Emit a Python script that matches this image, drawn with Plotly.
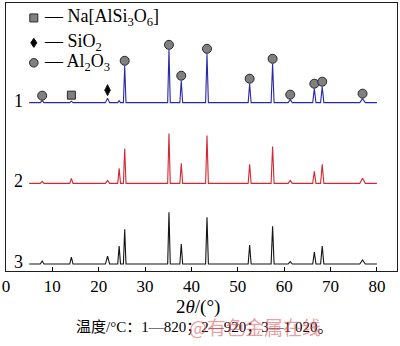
import plotly.graph_objects as go

# XRD patterns of the roasted samples (2θ in degrees, intensities in arbitrary units)
scan_start, scan_end = 5.0, 80.0
peak_pos = [7.8, 14.1, 21.9, 24.4, 25.6, 35.15, 37.8, 43.35, 52.55, 57.5, 61.3, 66.5, 68.2, 76.9]
peak_halfwidth = [0.4, 0.35, 0.45, 0.3, 0.28, 0.28, 0.3, 0.3, 0.32, 0.32, 0.45, 0.35, 0.35, 0.6]
inten_820 = [2, 1.5, 4.5, 2, 37, 53, 22, 49, 19, 39, 3, 14, 16, 4]
inten_920 = [2, 5, 3, 15, 35, 50, 20, 48, 19, 37, 3, 12, 19, 5]
inten_1020 = [3, 7, 8, 18, 35, 52, 20, 47, 19, 38, 2.5, 12, 18, 4]

# vertical offsets used to stack the patterns
offsets = {"1": 169, "2": 88, "3": 7}
colors = {"1": "rgb(40,40,170)", "2": "rgb(210,40,50)", "3": "rgb(20,20,20)"}

# phase identification (peak positions marked on pattern 1)
nepheline_peaks = [14.1]
sio2_peaks = [21.9]
al2o3_peaks = [7.8, 25.6, 35.15, 37.8, 43.35, 52.55, 57.5, 61.3, 66.5, 68.2, 76.9]

caption = "温度/°C：1—820；2—920；3—1 020。"
xticks = [0, 10, 20, 30, 40, 50, 60, 70, 80]


def pattern(intens):
    xs, ys = [scan_start], [0.0]
    for p, w, h in zip(peak_pos, peak_halfwidth, intens):
        xs += [p - w, p, p + w]
        ys += [0.0, h, 0.0]
    xs.append(scan_end)
    ys.append(0.0)
    return xs, ys


fig = go.Figure()
for key, intens in (("1", inten_820), ("2", inten_920), ("3", inten_1020)):
    xs, ys = pattern(intens)
    fig.add_trace(go.Scatter(
        x=xs, y=[v + offsets[key] for v in ys], mode="lines",
        line=dict(color=colors[key], width=1.1), showlegend=False, hoverinfo="skip"))

h_lookup = dict(zip(peak_pos, inten_820))


def marker_trace(positions, symbol, fill, size, gap):
    return go.Scatter(
        x=positions,
        y=[offsets["1"] + h_lookup[p] + gap for p in positions],
        mode="markers", showlegend=False, hoverinfo="skip",
        marker=dict(symbol=symbol, color=fill, size=size,
                    line=dict(color="rgb(40,40,40)", width=1)))


fig.add_trace(marker_trace(nepheline_peaks, "square", "rgb(128,128,128)", 8, 6))
fig.add_trace(marker_trace(sio2_peaks, "diamond-tall", "black", 8, 8))
fig.add_trace(marker_trace(al2o3_peaks, "circle", "rgb(128,128,128)", 9, 5))

serif = "Liberation Serif, Times New Roman, serif"
annotations = []
# pattern numbers
for key in ("1", "2", "3"):
    annotations.append(dict(x=2.8, y=offsets[key], xref="x", yref="y", text=key,
                            showarrow=False, yshift=2,
                            font=dict(family=serif, size=18, color="black")))

# phase key
legend_rows = [
    ("— Na[AlSi<sub>3</sub>O<sub>6</sub>]", 254),
    ("— SiO<sub>2</sub>", 229),
    ("— Al<sub>2</sub>O<sub>3</sub>", 209),
]
for text, yv in legend_rows:
    annotations.append(dict(x=7.7, y=yv, xref="x", yref="y", text=text,
                            showarrow=False, xanchor="left", yanchor="middle",
                            font=dict(family=serif, size=18, color="black")))

gx = 6.0
shapes = [
    dict(type="rect", xref="x", yref="y", xsizemode="pixel", ysizemode="pixel",
         xanchor=gx, yanchor=254, x0=-4, x1=4, y0=-4, y1=4,
         fillcolor="rgb(128,128,128)", line=dict(color="rgb(40,40,40)", width=1)),
    dict(type="path", xref="x", yref="y", xsizemode="pixel", ysizemode="pixel",
         xanchor=gx, yanchor=229, path="M 0 -4.5 L 3 0 L 0 4.5 L -3 0 Z",
         fillcolor="black", line=dict(color="black", width=1)),
    dict(type="circle", xref="x", yref="y", xsizemode="pixel", ysizemode="pixel",
         xanchor=gx, yanchor=209, x0=-4.3, x1=4.3, y0=-4.3, y1=4.3,
         fillcolor="rgb(128,128,128)", line=dict(color="rgb(40,40,40)", width=1)),
]

# axis title and caption
annotations.append(dict(x=0.49, y=-0.134, xref="paper", yref="paper",
                        text="2<i>θ</i>/(°)", showarrow=False, yanchor="middle",
                        font=dict(family=serif, size=19, color="black")))
annotations.append(dict(x=0.507, y=-0.212, xref="paper", yref="paper",
                        text=caption, showarrow=False, yanchor="middle",
                        font=dict(family="Liberation Serif, Noto Sans CJK SC", size=15,
                                  color="black")))
annotations.append(dict(x=0.81, y=-0.206, xref="paper", yref="paper",
                        text="@有色金属在线", showarrow=False, yanchor="middle",
                        font=dict(family="Noto Sans CJK SC", size=19,
                                  color="rgba(225,90,95,0.6)")))

fig.update_layout(
    width=400, height=346,
    margin=dict(l=4, r=3, t=2, b=75),
    paper_bgcolor="white", plot_bgcolor="white",
    showlegend=False,
    annotations=annotations, shapes=shapes,
    xaxis=dict(range=[0, 84.33], tickvals=xticks, ticks="inside", ticklen=4,
               tickcolor="black", showline=True, linecolor="rgb(30,30,30)", linewidth=1,
               mirror=True, showgrid=False, zeroline=False, ticklabeloverflow="allow",
               tickfont=dict(family=serif, size=17, color="black")),
    yaxis=dict(range=[0, 269], showticklabels=False, ticks="", showline=True,
               linecolor="rgb(30,30,30)", linewidth=1, mirror=True,
               showgrid=False, zeroline=False),
)

fig.write_html("out.html")
